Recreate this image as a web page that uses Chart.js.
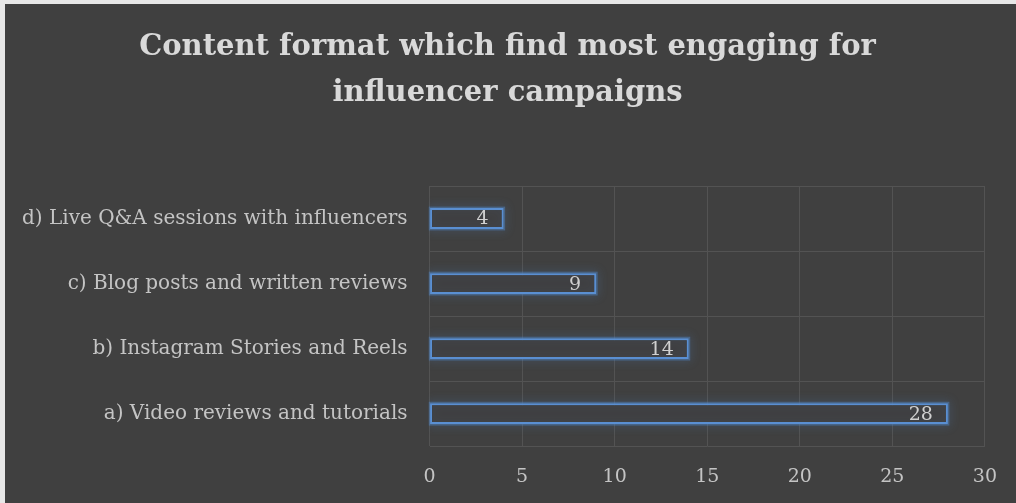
<!DOCTYPE html>
<html>
<head>
<meta charset="utf-8">
<script src="https://cdn.jsdelivr.net/npm/chart.js@4.4.1/dist/chart.umd.min.js"></script>
<style>
  html, body { margin: 0; padding: 0; background: #e7e7e7; }
  #wrap { position: absolute; left: 5px; top: 4px; width: 1011px; height: 499px; background: #404040; }
  canvas { display: block; }
</style>
</head>
<body>
<div id="wrap"><canvas id="c" width="1011" height="499"></canvas></div>
<script>
const titleLines = ['Content format which find most engaging for', 'influencer campaigns'];
const categories = [
  'a) Video reviews and tutorials',
  'b) Instagram Stories and Reels',
  'c) Blog posts and written reviews',
  'd) Live Q&A sessions with influencers'
];
const responses = [28, 14, 9, 4];
const xTicks = [0, 5, 10, 15, 20, 25, 30];

const FONT = "'DejaVu Serif', serif";

function barRect(bar) {
  const left = Math.min(bar.base, bar.x), right = Math.max(bar.base, bar.x);
  return { x: left, y: bar.y - bar.height / 2, w: right - left, h: bar.height };
}

// two-line heading centred over the whole card
const heading = {
  id: 'heading',
  afterDraw(chart) {
    const ctx = chart.ctx;
    ctx.save();
    ctx.font = "bold 29px " + FONT;
    ctx.fillStyle = '#d9d9d9';
    ctx.textAlign = 'center';
    ctx.textBaseline = 'middle';
    const cx = chart.width / 2 - 3;
    titleLines.forEach((line, i) => ctx.fillText(line, cx, 43 + i * 46));
    ctx.restore();
  }
};

// soft blue glow around each bar (drawn beneath the bars, kept inside the plot)
const glow = {
  id: 'glow',
  beforeDatasetsDraw(chart) {
    const ctx = chart.ctx;
    const area = chart.chartArea;
    chart.getDatasetMeta(0).data.forEach(bar => {
      const r = barRect(bar);
      ctx.save();
      ctx.beginPath();
      ctx.rect(area.left - 1, 0, chart.width, chart.height);
      ctx.clip();
      ctx.shadowColor = 'rgba(79,129,189,0.9)';
      ctx.shadowBlur = 10;
      ctx.strokeStyle = 'rgba(79,129,189,0.5)';
      ctx.lineWidth = 3;
      ctx.strokeRect(r.x, r.y, r.w, r.h);
      ctx.restore();
    });
  },
  afterDatasetsDraw(chart) {
    // faint inner glow along the bar edges
    const ctx = chart.ctx;
    chart.getDatasetMeta(0).data.forEach(bar => {
      const r = barRect(bar);
      ctx.save();
      ctx.beginPath();
      ctx.rect(r.x + 2, r.y + 2, r.w - 4, r.h - 4);
      ctx.clip();
      ctx.shadowColor = 'rgba(79,129,189,0.6)';
      ctx.shadowBlur = 8;
      ctx.strokeStyle = 'rgba(79,129,189,0.3)';
      ctx.lineWidth = 2;
      ctx.strokeRect(r.x + 1, r.y + 1, r.w - 2, r.h - 2);
      ctx.restore();
    });
  }
};

// value written just inside the end of each bar
const valueLabels = {
  id: 'valueLabels',
  afterDatasetsDraw(chart) {
    const ctx = chart.ctx;
    const meta = chart.getDatasetMeta(0);
    const data = chart.data.datasets[0].data;
    ctx.save();
    ctx.font = "19px " + FONT;
    ctx.fillStyle = '#d0d0d0';
    ctx.textAlign = 'right';
    ctx.textBaseline = 'middle';
    meta.data.forEach((bar, i) => {
      ctx.fillText(String(data[i]), bar.x - 15, bar.y + 1);
    });
    ctx.restore();
  }
};

new Chart(document.getElementById('c'), {
  type: 'bar',
  data: {
    labels: categories,
    datasets: [{
      data: responses,
      backgroundColor: 'rgba(64,64,66,1)',
      borderColor: '#5a8fd2',
      borderWidth: 2,
      borderSkipped: false,
      categoryPercentage: 0.8,
      barPercentage: 0.4
    }]
  },
  options: {
    indexAxis: 'y',
    responsive: false,
    animation: false,
    devicePixelRatio: 1,
    layout: { padding: { left: -5, right: 31, top: 182, bottom: -4 } },
    plugins: {
      legend: { display: false },
      tooltip: { enabled: false },
      title: { display: false }
    },
    scales: {
      x: {
        min: 0,
        max: 30,
        afterBuildTicks(axis) { axis.ticks = xTicks.map(v => ({ value: v })); },
        grid: { color: '#535353', lineWidth: 1, drawTicks: false },
        border: { display: false },
        ticks: { color: '#c4c4c4', font: { family: FONT, size: 19 }, padding: 19 }
      },
      y: {
        reverse: true,
        grid: { color: '#535353', lineWidth: 1, drawTicks: false, offset: true },
        border: { display: false },
        ticks: { color: '#c4c4c4', font: { family: FONT, size: 20 }, padding: 22 }
      }
    }
  },
  plugins: [heading, glow, valueLabels]
});
</script>
</body>
</html>
